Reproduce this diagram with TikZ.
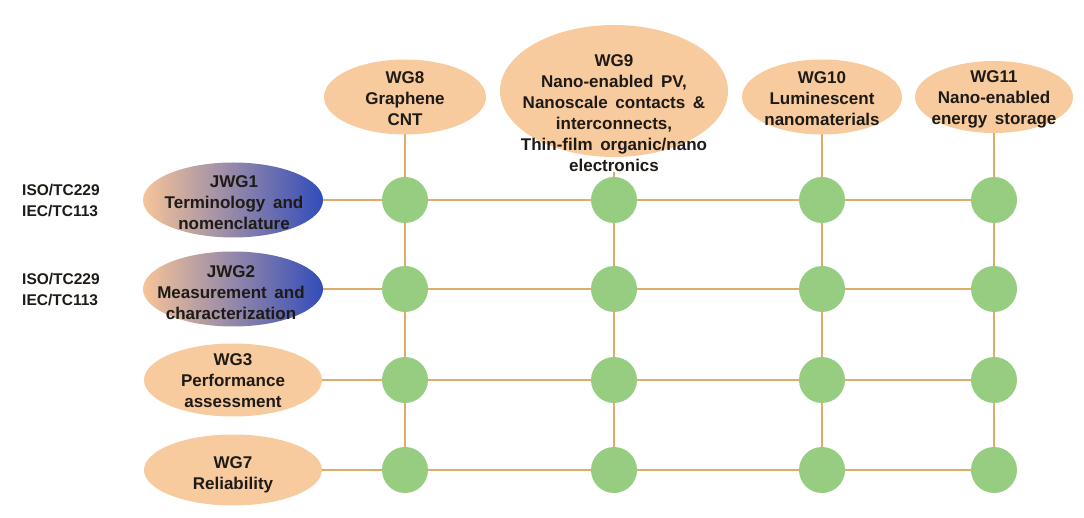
\documentclass[tikz,border=0pt]{standalone}
\usepackage{fontspec}
\setmainfont{Liberation Sans}
\usetikzlibrary{shapes.geometric}
\definecolor{peach}{RGB}{248,203,158}
\definecolor{peachg}{RGB}{246,196,152}
\definecolor{midg}{RGB}{168,140,170}
\definecolor{blueg}{RGB}{50,76,186}
\definecolor{leaf}{RGB}{150,205,128}
\definecolor{tan}{RGB}{222,172,104}
\definecolor{ink}{RGB}{30,26,22}
\newcommand\wsp{\hspace{0.45em}}
\pgfdeclarelayer{bg}
\pgfsetlayers{bg,main}
\tikzset{
  wg/.style={ellipse, fill=peach, inner sep=0pt},
  jwg/.style={ellipse, left color=peachg, middle color=midg, right color=blueg, inner sep=0pt, minimum width=180pt, minimum height=75pt},
  hub/.style={circle, fill=leaf, minimum size=46pt, inner sep=0pt},
  lnk/.style={draw=tan, line width=2.8pt},
  txt/.style={font=\fontsize{17}{21}\selectfont\bfseries, text=ink, align=center, inner sep=0pt},
  tc/.style={font=\fontsize{15.5}{21}\selectfont\bfseries, text=ink, align=left, inner sep=0pt, anchor=west},
}
\begin{document}
\begin{tikzpicture}[x=1pt,y=-1pt]
\useasboundingbox (0,0) rectangle (1084,518);
% top working groups
\node[wg, minimum width=162pt, minimum height=75pt] (w8) at (405,97) {};
\node[wg, minimum width=228pt, minimum height=132pt] (w9) at (614,91) {};
\node[wg, minimum width=160pt, minimum height=75pt] (w10) at (822,97) {};
\node[wg, minimum width=158pt, minimum height=72pt] (w11) at (994,97) {};
\node[txt] (t8) at (405,99) {WG8\\Graphene\\CNT};
\node[txt] (t9) at (614,113) {WG9\\Nano-enabled\wsp PV,\\Nanoscale\wsp contacts\wsp \&\\interconnects,\\Thin-film\wsp organic/nano\\electronics};
\node[txt] (t10) at (822,99) {WG10\\Luminescent\\nanomaterials};
\node[txt] (t11) at (994,99) {WG11\\Nano-enabled\\energy\wsp storage};
% left working groups
\node[jwg] (j1) at (233,200) {};
\node[jwg] (j2) at (233,289) {};
\node[wg, minimum width=178pt, minimum height=73pt] (w3) at (233,380) {};
\node[wg, minimum width=178pt, minimum height=71pt] (w7) at (233,470) {};
\node[txt] (tj1) at (234,203) {JWG1\\Terminology\wsp and\\nomenclature};
\node[txt] (tj2) at (231,293) {JWG2\\Measurement\wsp and\\characterization};
\node[txt] (t3) at (233,381) {WG3\\Performance\\assessment};
\node[txt] (t7) at (233,475) {WG7\\Reliability};
% committee labels
\node[tc] (iso1) at (22,201) {ISO/TC229\\IEC/TC113};
\node[tc] (iso2) at (22,290) {ISO/TC229\\IEC/TC113};
% hubs
\foreach \r/\y in {1/200,2/289,3/380,4/470}{
  \foreach \c/\x in {a/405,b/614,c/822,d/994}{
    \node[hub] (h\r\c) at (\x,\y) {};
  }
}
\begin{pgfonlayer}{bg}
\draw[lnk] (j1.center) -- (h1d.center);
\draw[lnk] (j2.center) -- (h2d.center);
\draw[lnk] (w3.center) -- (h3d.center);
\draw[lnk] (w7.center) -- (h4d.center);
\draw[lnk] (w8.center) -- (h4a.center);
\draw[lnk] (t9.south) -- (h4b.center);
\draw[lnk] (w10.center) -- (h4c.center);
\draw[lnk] (w11.center) -- (h4d.center);
\end{pgfonlayer}
\end{tikzpicture}
\end{document}
